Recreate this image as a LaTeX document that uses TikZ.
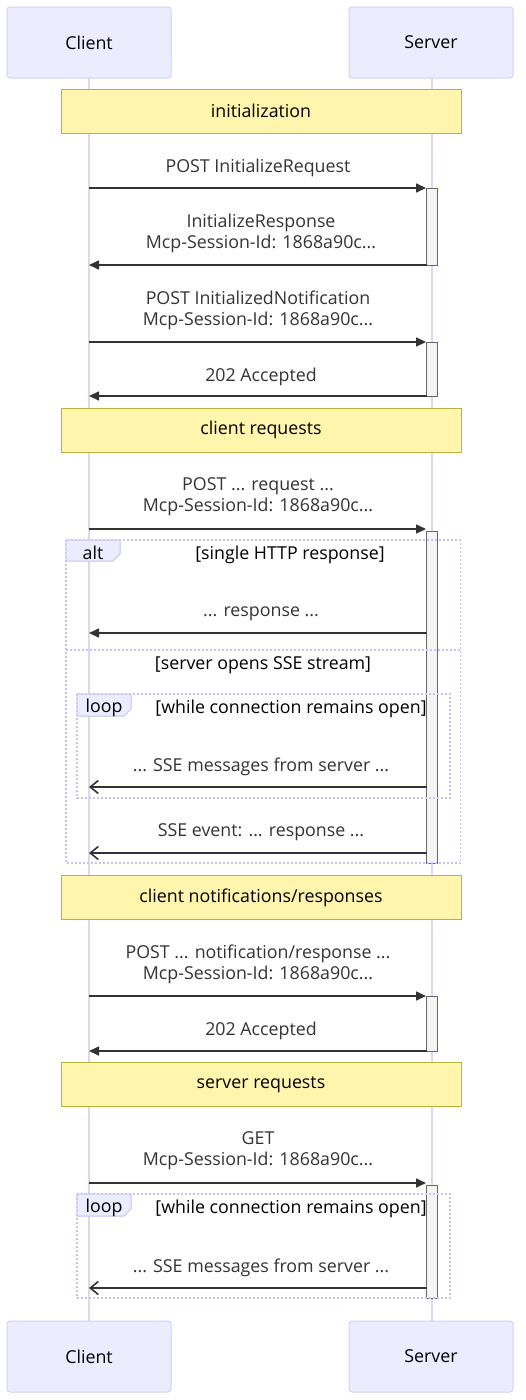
\documentclass[tikz,border=0pt]{standalone}
\usepackage{fontspec}
\setmainfont{Open Sans}
\usetikzlibrary{arrows.meta}
\definecolor{actfill}{HTML}{ECECFF}
\definecolor{actdraw}{HTML}{D6D0F5}
\definecolor{life}{HTML}{DDD5F6}
\definecolor{notefill}{HTML}{FFF5AD}
\definecolor{notedraw}{HTML}{B8B43A}
\definecolor{msg}{HTML}{333333}
\definecolor{actv}{HTML}{F4F4F4}
\definecolor{frame}{HTML}{C9C1F0}
\tikzset{
  actor/.style={draw=actdraw, fill=actfill, line width=1pt, rounded corners=3pt, minimum width=164pt, minimum height=71pt, font=\fontsize{17.8}{21}\selectfont, text=black},
  lifeline/.style={draw=life, line width=2pt},
  notebox/.style={draw=notedraw, fill=notefill, line width=1pt, minimum width=400pt, minimum height=44pt, font=\fontsize{17.8}{21}\selectfont, text=black},
  lbl/.style={font=\fontsize{17.8}{21}\selectfont, text=msg, align=center, inner sep=0pt, yshift=-1.5pt},
  frlbl/.style={font=\fontsize{17.8}{21}\selectfont, text=black, align=center, inner sep=0pt, yshift=-1.5pt},
  solidmsg/.style={draw=msg, line width=1.6pt, -{Triangle[length=10pt,width=9pt]}},
  openmsg/.style={draw=msg, line width=1.6pt, -{Straight Barb[length=8pt,width=13pt,line width=1.6pt]}},
  activ/.style={draw=black!60, fill=actv, line width=1pt},
  frm/.style={draw=frame, line width=1.5pt, dash pattern=on 2pt off 2pt},
  tab/.style={draw=frame, fill=actfill, line width=1pt},
}
\begin{document}
\begin{tikzpicture}[x=1pt,y=-1pt]
\useasboundingbox (0,0) rectangle (526,1400);
% lifelines
\coordinate (cl0) at (89,78); \coordinate (cl1) at (89,1321);
\coordinate (sl0) at (432,78); \coordinate (sl1) at (432,1321);
\draw[lifeline] (cl0) -- (cl1);
\draw[lifeline] (sl0) -- (sl1);
% actors
\node[actor] (ctop) at (89,42.5) {Client};
\node[actor] (stop) at (431,42.5) {Server};
\node[actor] (cbot) at (89,1356.5) {Client};
\node[actor] (sbot) at (431,1356.5) {Server};

% notes
\node[notebox] (n1) at (261,111) {initialization};
\node[notebox] (n2) at (261,430) {client requests};
\node[notebox] (n3) at (261,897.5) {client notifications/responses};
\node[notebox] (n4) at (261,1084.5) {server requests};

% activations
\draw[activ] (426.5,188) rectangle (437.5,265);
\draw[activ] (426.5,342) rectangle (437.5,396);
\draw[activ] (426.5,531) rectangle (437.5,863);
\draw[activ] (426.5,996) rectangle (437.5,1051);
\draw[activ] (426.5,1185) rectangle (437.5,1298);

% frames
\draw[frm] (66,540) rectangle (460.5,863);
\draw[frm] (66,650) -- (460.5,650);
\draw[tab] (66,540) -- (120,540) -- (120,554) -- (113,561) -- (66,561) -- cycle;
\node[frlbl] (altl) at (93,551) {alt};
\node[frlbl] (altc1) at (290,553) {[single HTTP response]};
\node[frlbl] (altc2) at (263,664) {[server opens SSE stream]};

\draw[frm] (77,694) rectangle (450,798);
\draw[tab] (77,694) -- (131,694) -- (131,709) -- (124,716) -- (77,716) -- cycle;
\node[frlbl] (loop1) at (104,706) {loop};
\node[frlbl] (loopc1) at (291,707) {[while connection remains open]};

\draw[frm] (77,1194) rectangle (450,1298);
\draw[tab] (77,1194) -- (131,1194) -- (131,1209) -- (124,1216) -- (77,1216) -- cycle;
\node[frlbl] (loop2) at (104,1206) {loop};
\node[frlbl] (loopc2) at (291,1207) {[while connection remains open]};

% messages
\coordinate (c1) at (89,188); \coordinate (s1) at (426,188);
\node[lbl] (t1) at (258,166) {POST InitializeRequest};
\draw[solidmsg] (c1) -- (s1);

\coordinate (c2) at (89,265); \coordinate (s2) at (426.5,265);
\node[lbl] (t2) at (261,231.5) {InitializeResponse\\Mcp-Session-Id: 1868a90c...};
\draw[solidmsg] (s2) -- (c2);

\coordinate (c3) at (89,342); \coordinate (s3) at (426,342);
\node[lbl] (t3) at (258,308.5) {POST InitializedNotification\\Mcp-Session-Id: 1868a90c...};
\draw[solidmsg] (c3) -- (s3);

\coordinate (c4) at (89,396); \coordinate (s4) at (426.5,396);
\node[lbl] (t4) at (261,375) {202 Accepted};
\draw[solidmsg] (s4) -- (c4);

\coordinate (c5) at (89,529); \coordinate (s5) at (426,529);
\node[lbl] (t5) at (258,495.5) {POST ... request ...\\Mcp-Session-Id: 1868a90c...};
\draw[solidmsg] (c5) -- (s5);

\coordinate (c6) at (89,633); \coordinate (s6) at (426.5,633);
\node[lbl] (t6) at (261,612) {... response ...};
\draw[solidmsg] (s6) -- (c6);

\coordinate (c7) at (89,787); \coordinate (s7) at (426.5,787);
\node[lbl] (t7) at (261,765) {... SSE messages from server ...};
\draw[openmsg] (s7) -- (c7);

\coordinate (c8) at (89,853); \coordinate (s8) at (426.5,853);
\node[lbl] (t8) at (261,831) {SSE event: ... response ...};
\draw[openmsg] (s8) -- (c8);

\coordinate (c9) at (89,996); \coordinate (s9) at (426,996);
\node[lbl] (t9) at (258,962.5) {POST ... notification/response ...\\Mcp-Session-Id: 1868a90c...};
\draw[solidmsg] (c9) -- (s9);

\coordinate (c10) at (89,1051); \coordinate (s10) at (426.5,1051);
\node[lbl] (t10) at (261,1029) {202 Accepted};
\draw[solidmsg] (s10) -- (c10);

\coordinate (c11) at (89,1183); \coordinate (s11) at (426,1183);
\node[lbl] (t11) at (258,1149.5) {GET\\Mcp-Session-Id: 1868a90c...};
\draw[solidmsg] (c11) -- (s11);

\coordinate (c12) at (89,1288); \coordinate (s12) at (426.5,1288);
\node[lbl] (t12) at (261,1266) {... SSE messages from server ...};
\draw[openmsg] (s12) -- (c12);
\end{tikzpicture}
\end{document}
